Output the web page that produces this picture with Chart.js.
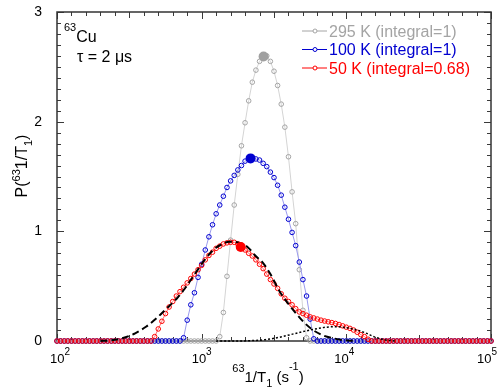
<!DOCTYPE html>
<html>
<head>
<meta charset="utf-8">
<script src="https://cdn.jsdelivr.net/npm/chart.js@4.4.0/dist/chart.umd.min.js"></script>
<style>
  html, body { margin: 0; padding: 0; background: #fff; overflow: hidden; }
  #outer { width: 499px; height: 392px; overflow: hidden; position: relative; }
  #wrap { width: 499px; height: 394px; position: absolute; left: 0; top: -2px; }
</style>
</head>
<body>
<div id="outer"><div id="wrap"><canvas id="c"></canvas></div></div>
<script>
// log10 of 1/T1 (s^-1), sampling grid of the distributions
const logT1 = [
  2.000,2.025,2.050,2.075,2.100,2.125,2.150,2.175,2.200,2.225,
  2.250,2.275,2.300,2.325,2.350,2.375,2.400,2.425,2.450,2.475,
  2.500,2.525,2.550,2.575,2.600,2.625,2.650,2.675,2.700,2.725,
  2.750,2.775,2.800,2.825,2.850,2.875,2.900,2.925,2.950,2.975,
  3.000,3.025,3.050,3.075,3.100,3.125,3.150,3.175,3.200,3.225,
  3.250,3.275,3.300,3.325,3.350,3.375,3.400,3.425,3.450,3.475,
  3.500,3.525,3.550,3.575,3.600,3.625,3.650,3.675,3.700,3.725,
  3.750,3.775,3.800,3.825,3.850,3.875,3.900,3.925,3.950,3.975,
  4.000,4.025,4.050,4.075,4.100,4.125,4.150,4.175,4.200,4.225,
  4.250,4.275,4.300,4.325,4.350,4.375,4.400,4.425,4.450,4.475,
  4.500,4.525,4.550,4.575,4.600,4.625,4.650,4.675,4.700,4.725,
  4.750,4.775,4.800,4.825,4.850,4.875,4.900,4.925,4.950,4.975,
  5.000
];

// P(1/T1) at 295 K
const p295 = [
  0,0,0,0,0,0,0,0,0,0,
  0,0,0,0,0,0,0,0,0,0,
  0,0,0,0,0,0,0,0,0,0,
  0,0,0,0,0,0,0,0,0,0,
  0,0,0,0,0,0.04,0.26,0.59,0.92,1.24,
  1.52,1.78,1.99,2.19,2.36,2.47,2.55,2.59,2.60,2.55,
  2.46,2.33,2.16,1.95,1.68,1.36,1.07,0.65,0.28,0.03,
  0,0,0,0,0,0,0,0,0,0,
  0,0,0,0,0,0,0,0,0,0,
  0,0,0,0,0,0,0,0,0,0,
  0,0,0,0,0,0,0,0,0,0,
  0,0,0,0,0,0,0,0,0,0,
  0
];

// P(1/T1) at 100 K
const p100 = [
  0,0,0,0,0,0,0,0,0,0,
  0,0,0,0,0,0,0,0,0,0,
  0,0,0,0,0,0,0,0,0,0,
  0,0,0,0,0,0.03,0.19,0.33,0.44,0.58,
  0.70,0.83,0.95,1.06,1.16,1.24,1.32,1.40,1.46,1.51,
  1.56,1.60,1.64,1.66,1.67,1.66,1.65,1.62,1.59,1.54,
  1.49,1.42,1.33,1.22,1.11,0.99,0.87,0.72,0.56,0.41,
  0.20,0.02,0,0,0,0,0,0,0,0,
  0,0,0,0,0,0,0,0,0,0,
  0,0,0,0,0,0,0,0,0,0,
  0,0,0,0,0,0,0,0,0,0,
  0,0,0,0,0,0,0,0,0,0,
  0
];

// P(1/T1) at 50 K
const p50 = [
  0,0,0,0,0,0,0,0,0,0,
  0,0,0,0,0,0,0,0,0,0,
  0,0,0,0,0,0,0,0.04,0.11,0.18,
  0.25,0.31,0.36,0.41,0.45,0.49,0.53,0.57,0.61,0.65,
  0.69,0.74,0.78,0.81,0.845,0.865,0.885,0.895,0.90,0.90,
  0.885,0.865,0.83,0.80,0.775,0.74,0.70,0.66,0.61,0.56,
  0.52,0.48,0.43,0.39,0.36,0.33,0.295,0.265,0.25,0.235,
  0.22,0.21,0.20,0.19,0.182,0.175,0.168,0.16,0.15,0.138,
  0.126,0.115,0.10,0.08,0.058,0.04,0.016,0,0,0,
  0,0,0,0,0,0,0,0,0,0,
  0,0,0,0,0,0,0,0,0,0,
  0,0,0,0,0,0,0,0,0,0,
  0
];

// filled markers at the maxima (295 K, 100 K, 50 K)
const peakX = [3.428, 3.338, 3.270];
const peakY = [2.595, 1.665, 0.857];

// fit components of the 50 K distribution
const mainFitX = [2.30,2.37,2.45,2.54,2.615,2.69,2.76,2.83,2.89,2.955,3.015,3.08,3.135,3.19,3.245,3.315,3.37,3.425,3.475,3.54,3.61,3.66,3.715,3.77,3.84,3.91,3.98,4.06];
const mainFitY = [0,0.005,0.025,0.07,0.13,0.21,0.30,0.39,0.49,0.615,0.73,0.83,0.88,0.905,0.90,0.86,0.78,0.71,0.61,0.45,0.32,0.24,0.16,0.10,0.05,0.025,0.008,0];
const sideFitX = [3.10,3.23,3.335,3.44,3.54,3.645,3.75,3.855,3.925,3.99,4.06,4.13,4.20,4.27,4.34];
const sideFitY = [0,0,0.003,0.012,0.035,0.068,0.10,0.125,0.13,0.123,0.105,0.075,0.035,0.01,0];

const legendLabels = ['295 K (integral=1)', '100 K (integral=1)', '50 K (integral=0.68)'];
const yTickLabels = ['0', '1', '2', '3'];
const xTickShift = [3, 0, -2, -4];

const FONT = '"Liberation Sans", Arial, sans-serif';
const GRAY = '#a4a4a4', BLUE = '#0000d0', RED = '#ff0000';
const OFF = 2; // canvas sits 2px above the page top

function pairs(xs, ys) { return xs.map((x, i) => ({ x: x, y: ys[i] })); }

function seriesSet(vals, color, line, order) {
  return {
    data: pairs(logT1, vals), showLine: true, borderColor: line, borderWidth: 1,
    pointRadius: 2.3, pointBorderColor: color, pointBorderWidth: 1,
    pointBackgroundColor: 'rgba(255,255,255,0)', clip: false, order: order
  };
}
function peakSet(i, color, order) {
  return {
    data: [{ x: peakX[i], y: peakY[i] }], showLine: false, pointRadius: 5,
    pointBackgroundColor: color, pointBorderColor: color, pointBorderWidth: 0,
    clip: false, order: order
  };
}

function drawRuns(ctx, runs, x0, base) {
  let x = x0;
  runs.forEach(r => {
    ctx.font = r.s + 'px ' + FONT;
    ctx.fillText(r.t, x, base + (r.dy || 0));
    x += ctx.measureText(r.t).width;
  });
  return x - x0;
}
function runsWidth(ctx, runs) {
  let w = 0;
  runs.forEach(r => { ctx.font = r.s + 'px ' + FONT; w += ctx.measureText(r.t).width; });
  return w;
}

const framePlugin = {
  id: 'frame',
  beforeDatasetsDraw(chart) {
    const { ctx, chartArea: a } = chart;
    const xs = chart.scales.x, ys = chart.scales.y;
    ctx.save();
    ctx.strokeStyle = '#3a3a3a';
    ctx.lineWidth = 1;
    ctx.beginPath();
    for (let k = 0; k <= 30; k++) {
      const py = Math.round(ys.getPixelForValue(k / 10)) + 0.5;
      const ly = k % 10 === 0 ? 7 : 4;
      ctx.moveTo(a.left, py); ctx.lineTo(a.left + ly, py);
      ctx.moveTo(a.right, py); ctx.lineTo(a.right - ly, py);
      const px = Math.round(xs.getPixelForValue(2 + k / 10)) + 0.5;
      const lx = k % 10 === 0 ? 7 : (k % 5 === 0 ? 6 : 4);
      ctx.moveTo(px, a.bottom); ctx.lineTo(px, a.bottom - lx);
      ctx.moveTo(px, a.top); ctx.lineTo(px, a.top + lx);
    }
    ctx.stroke();
    ctx.lineWidth = 1.5;
    ctx.strokeStyle = '#333';
    ctx.strokeRect(a.left, a.top, a.right - a.left, a.bottom - a.top);
    ctx.restore();
  },
  afterDraw(chart) {
    const { ctx, chartArea: a } = chart;
    const xs = chart.scales.x;
    ctx.save();
    ctx.fillStyle = '#000';
    ctx.textBaseline = 'alphabetic';
    ctx.textAlign = 'left';

    // x tick labels 10^n
    xs.ticks.forEach((t, i) => {
      const px = xs.getPixelForValue(t.value);
      const runs = [{ t: '10', s: 13 }, { t: String(t.value), s: 10, dy: -8 }];
      const w = runsWidth(ctx, runs);
      drawRuns(ctx, runs, px - w / 2 + (xTickShift[i] || 0), a.bottom + 22);
    });

    // x title
    const xt = [{ t: '63', s: 11, dy: -10 }, { t: '1/T', s: 15 }, { t: '1', s: 11, dy: 5 },
                { t: ' (s', s: 15 }, { t: '-1', s: 11, dy: -12 }, { t: ')', s: 15 }];
    const xw = runsWidth(ctx, xt);
    drawRuns(ctx, xt, 268 - xw / 2, 382 + OFF);

    // y title
    const yt = [{ t: 'P(', s: 16 }, { t: '63', s: 11, dy: -7 }, { t: '1/T', s: 16 },
                { t: '1', s: 11, dy: 5 }, { t: ')', s: 16 }];
    const yw = runsWidth(ctx, yt);
    ctx.save();
    ctx.translate(27, 166 + OFF);
    ctx.rotate(-Math.PI / 2);
    drawRuns(ctx, yt, -yw / 2, 0);
    ctx.restore();

    // annotation
    drawRuns(ctx, [{ t: '63', s: 11, dy: -11 }, { t: 'Cu', s: 16 }], 64, 42 + OFF);
    ctx.font = '16px ' + FONT;
    ctx.fillText('\u03c4 = 2 \u03bcs', 77, 62 + OFF);

    // legend
    const cols = [GRAY, BLUE, RED];
    const bases = [36.5, 55, 73.5];
    legendLabels.forEach((lab, i) => {
      const base = bases[i] + OFF;
      const my = base - 5.5;
      ctx.strokeStyle = cols[i];
      ctx.lineWidth = 1;
      ctx.beginPath(); ctx.moveTo(302, my); ctx.lineTo(327, my); ctx.stroke();
      ctx.beginPath(); ctx.arc(315, my, 2, 0, Math.PI * 2);
      ctx.fillStyle = '#fff'; ctx.fill(); ctx.stroke();
      ctx.fillStyle = cols[i];
      ctx.font = '16px ' + FONT;
      ctx.fillText(lab, 329, base);
    });
    ctx.restore();
  }
};

new Chart(document.getElementById('c'), {
  type: 'scatter',
  data: {
    datasets: [
      seriesSet(p295, GRAY, '#d4d4d4', 9),
      peakSet(0, '#a0a0a0', 8),
      seriesSet(p100, BLUE, '#9a9aee', 7),
      peakSet(1, BLUE, 6),
      seriesSet(p50, RED, '#ff7070', 5),
      {
        data: pairs(mainFitX, mainFitY), showLine: true, borderColor: '#000', borderWidth: 2,
        borderDash: [7, 4], pointRadius: 0, cubicInterpolationMode: 'monotone', clip: false, order: 3
      },
      {
        data: pairs(sideFitX, sideFitY), showLine: true, borderColor: '#000', borderWidth: 1.5,
        borderDash: [2, 2], pointRadius: 0, cubicInterpolationMode: 'monotone', clip: false, order: 2
      },
      peakSet(2, RED, 1)
    ]
  },
  options: {
    responsive: true,
    maintainAspectRatio: false,
    animation: false,
    devicePixelRatio: 1,
    layout: { padding: { top: 0, right: 8, left: 0, bottom: 0 } },
    plugins: { legend: { display: false }, tooltip: { enabled: false } },
    scales: {
      x: {
        type: 'linear', min: 2, max: 5,
        grid: { display: false }, border: { display: false },
        ticks: { display: false, stepSize: 1 },
        afterFit: s => { s.height = 51; }
      },
      y: {
        type: 'linear', min: 0, max: 3,
        grid: { display: false }, border: { display: false },
        ticks: {
          stepSize: 1, padding: 7, color: '#000',
          font: { family: FONT, size: 14, lineHeight: 1.0 },
          callback: v => yTickLabels[v]
        },
        afterFit: s => { s.width = 57; }
      }
    }
  },
  plugins: [framePlugin]
});
</script>
</body>
</html>
